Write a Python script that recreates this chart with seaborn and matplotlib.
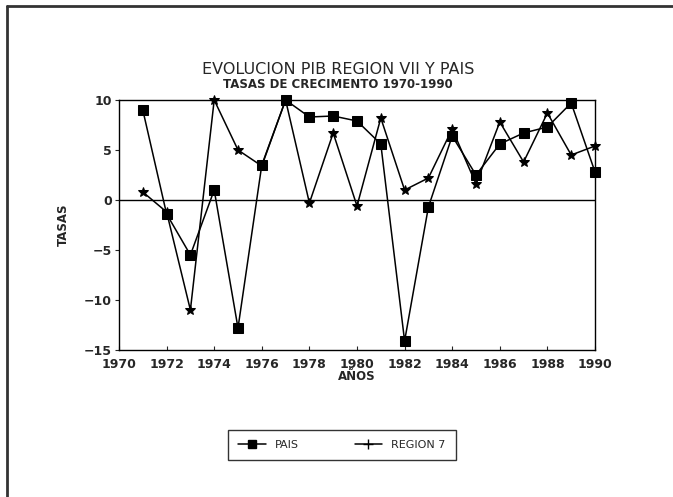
import matplotlib
matplotlib.use("Agg")
import matplotlib.pyplot as plt
import seaborn as sns
import pandas as pd
from matplotlib.lines import Line2D

years = list(range(1971, 1991))
pais = [9.0, -1.4, -5.5, 1.0, -12.8, 3.5, 10.0, 8.3, 8.4, 7.9, 5.6,
        -14.1, -0.7, 6.4, 2.5, 5.6, 6.7, 7.3, 9.7, 2.8]
region7 = [0.8, -1.2, -11.0, 10.0, 5.0, 3.4, 10.0, -0.3, 6.7, -0.6, 8.2,
           1.0, 2.2, 7.1, 1.6, 7.8, 3.8, 8.7, 4.5, 5.4]
xticks = list(range(1970, 1991, 2))
yticks = [-15, -10, -5, 0, 5, 10]

title = "EVOLUCION PIB REGION VII Y PAIS"
subtitle = "TASAS DE CRECIMENTO 1970-1990"

sns.set_style("white")
plt.rcParams['font.family'] = ['DejaVu Sans']

fig = plt.figure(figsize=(6.73, 4.97), dpi=100)
W, H = 673, 497
ax = fig.add_axes([119 / W, 1 - 350 / H, (595 - 119) / W, (350 - 100) / H])

df = pd.DataFrame({"year": years, "PAIS": pais, "REGION 7": region7})
sns.lineplot(data=df, x="year", y="PAIS", ax=ax, color="black", lw=1.1,
             marker="s", markersize=7, markeredgecolor="black", legend=False,
             clip_on=False)
sns.lineplot(data=df, x="year", y="REGION 7", ax=ax, color="black", lw=1.1,
             marker="*", markersize=7, markeredgecolor="black", legend=False,
             clip_on=False)

ax.axhline(0, color="black", lw=1.0)
ax.set_xlim(1970, 1990)
ax.set_ylim(-15, 10)
ax.set_xticks(xticks)
ax.set_yticks(yticks)
ax.set_xticklabels([str(t) for t in xticks], fontsize=9, fontweight="bold")
ax.set_yticklabels(["\u221215", "\u221210", "\u22125", "0", "5", "10"],
                   fontsize=9, fontweight="bold")
ax.tick_params(axis="x", direction="in", length=3, pad=6, bottom=True)
ax.tick_params(axis="y", direction="out", length=3, pad=2, left=True)
for s in ax.spines.values():
    s.set_color("black")
    s.set_linewidth(1.0)
ax.set_xlabel("AÑOS", fontsize=8.5, fontweight="bold", labelpad=-1)
ax.set_ylabel("TASAS", fontsize=8.5, fontweight="bold", labelpad=10)

fig.text(338 / W, 1 - 70 / H, title, ha="center", va="center", fontsize=11.5)
fig.text(338 / W, 1 - 85 / H, subtitle, ha="center", va="center",
         fontsize=8.5, fontweight="bold")

handles = [
    Line2D([], [], color="black", lw=1.1, marker="s", markersize=6),
    Line2D([], [], color="black", lw=1.1, marker="+", markersize=7),
]
leg = fig.legend(handles, ["PAIS", "REGION 7"], loc="center",
                 bbox_to_anchor=(342 / W, 1 - 445 / H), ncol=2,
                 frameon=True, fancybox=False, edgecolor="black",
                 fontsize=8, handlelength=2.5, columnspacing=5,
                 borderpad=0.9)
leg.get_frame().set_linewidth(1.0)

# page frame
fig.add_artist(Line2D([7 / W, 7 / W], [0, 1 - 6 / H], color="#333333", lw=2,
                      transform=fig.transFigure))
fig.add_artist(Line2D([7 / W, 1], [1 - 6 / H, 1 - 6 / H], color="#333333", lw=2,
                      transform=fig.transFigure))

fig.savefig("out.png", dpi=100)
